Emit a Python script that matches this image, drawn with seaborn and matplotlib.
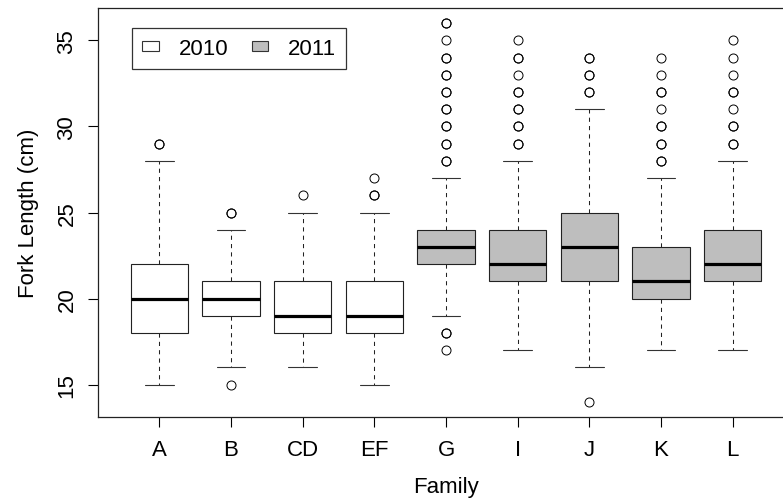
import matplotlib
matplotlib.use("Agg")
import matplotlib.pyplot as plt
import seaborn as sns
from matplotlib.patches import Patch

sns.set_style("ticks")
plt.rcParams['font.family'] = ['Liberation Sans', 'DejaVu Sans']
plt.rcParams['text.color'] = 'black'
plt.rcParams['xtick.color'] = 'black'
plt.rcParams['ytick.color'] = 'black'
plt.rcParams['axes.labelcolor'] = 'black'

families = ["A", "B", "CD", "EF", "G", "I", "J", "K", "L"]
years = ["2010", "2010", "2010", "2010", "2011", "2011", "2011", "2011", "2011"]
whisker_low = [15, 16, 16, 15, 19, 17, 16, 17, 17]
q1 = [18, 19, 18, 18, 22, 21, 21, 20, 21]
median = [20, 20, 19, 19, 23, 22, 23, 21, 22]
q3 = [22, 21, 21, 21, 24, 24, 25, 23, 24]
whisker_high = [28, 24, 25, 25, 27, 28, 31, 27, 28]
outliers = [
    [29, 29],
    [25, 25, 15],
    [26],
    [27, 26, 26],
    [36, 36, 35, 34, 34, 33, 33, 32, 32, 31, 31, 30, 30, 29, 29, 28, 28, 18, 18, 17],
    [35, 34, 34, 33, 32, 32, 31, 31, 30, 30, 29, 29],
    [34, 34, 33, 33, 32, 32, 14],
    [34, 33, 32, 32, 31, 30, 30, 29, 29, 28, 28],
    [35, 34, 33, 32, 32, 31, 30, 30, 29, 29],
]
year_colors = {"2010": "white", "2011": "#BEBEBE"}

fig = plt.figure(figsize=(7.83, 5.02), dpi=100)
ax = fig.add_axes([97.7 / 783, (502 - 418) / 502, (794.3 - 97.7) / 783, (418 - 9) / 502])

stats = []
for i, fam in enumerate(families):
    stats.append(dict(label=fam, whislo=whisker_low[i], q1=q1[i], med=median[i],
                      q3=q3[i], whishi=whisker_high[i], fliers=outliers[i]))

positions = list(range(1, len(families) + 1))
bp = ax.bxp(stats, positions=positions, widths=0.8, patch_artist=True,
            showfliers=True,
            boxprops=dict(edgecolor="#222222", linewidth=0.8),
            medianprops=dict(color="black", linewidth=2.3, solid_capstyle="butt"),
            whiskerprops=dict(color="#222222", linewidth=0.75, linestyle=(0, (4, 4))),
            capprops=dict(color="#333333", linewidth=0.8),
            capwidths=0.4,
            flierprops=dict(marker="o", markersize=6.5, markerfacecolor="none",
                            markeredgecolor="black", markeredgewidth=0.7, linestyle="none"))
for patch, yr in zip(bp["boxes"], years):
    patch.set_facecolor(year_colors[yr])

ax.set_xlim(0.14, 9.86)
ax.set_ylim(13.12, 36.88)
ax.set_yticks([15, 20, 25, 30, 35])
ax.set_xticks(positions)
ax.set_xticklabels(families)
for lab in ax.get_yticklabels():
    lab.set_rotation(90)
    lab.set_va("center")
ax.tick_params(axis="both", labelsize=16, length=7.5, width=0.8, pad=7)
ax.tick_params(axis="x", pad=8)
for s in ax.spines.values():
    s.set_linewidth(0.9)
    s.set_color("#222222")
ax.set_xlabel("Family", fontsize=16, labelpad=12)
ax.set_ylabel("Fork Length (cm)", fontsize=16, labelpad=13)

handles = [Patch(facecolor=year_colors[y], edgecolor="#333333", linewidth=0.8, label=y)
           for y in ["2010", "2011"]]
leg = ax.legend(handles=handles, ncol=2, loc="upper left",
                bbox_to_anchor=((132 - 97.7) / 696.6, (418 - 29) / 409),
                borderaxespad=0, fontsize=16, frameon=True, fancybox=False,
                handlelength=0.75, handleheight=0.3, handletextpad=0.9,
                columnspacing=1.05, borderpad=0.45)
leg.get_frame().set_edgecolor("black")
leg.get_frame().set_linewidth(0.9)

fig.savefig("out.png", dpi=100)
